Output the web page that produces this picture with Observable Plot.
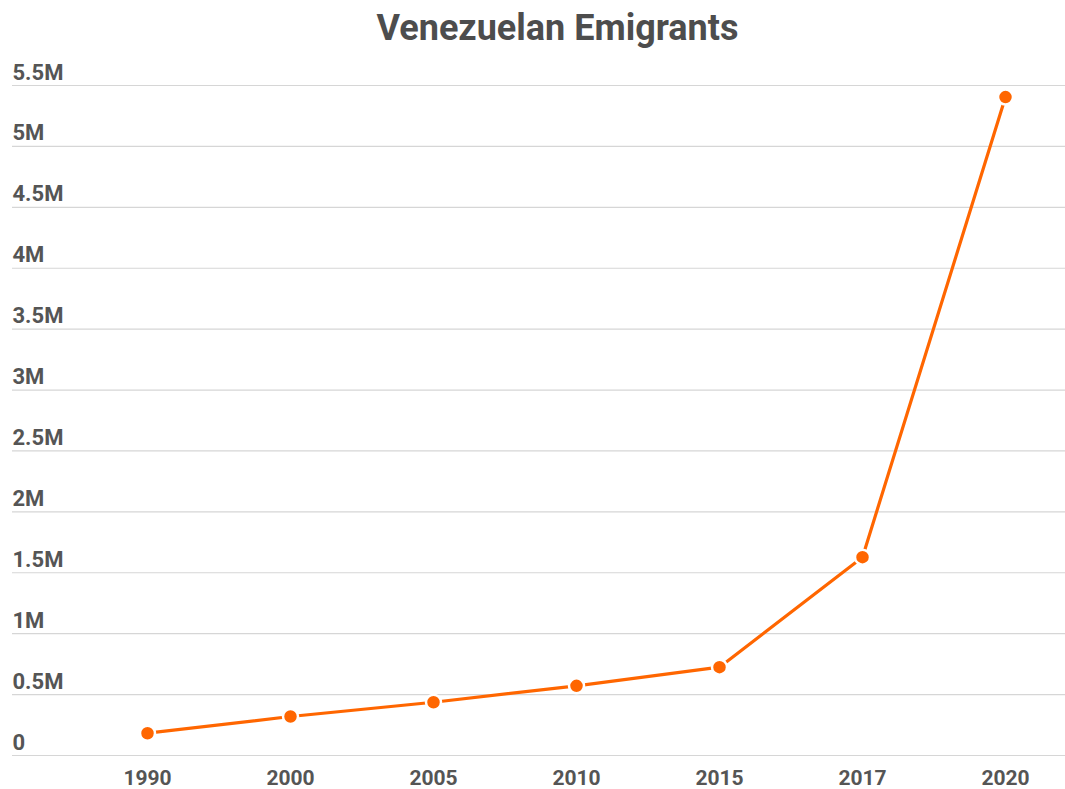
<!DOCTYPE html>
<html>
<head>
<meta charset="utf-8">
<script src="https://cdn.jsdelivr.net/npm/d3@7"></script>
<script src="https://cdn.jsdelivr.net/npm/@observablehq/plot@0.6"></script>
<style>
  html, body { margin: 0; padding: 0; background: #fff; }
  #title {
    width: 1065px; box-sizing: border-box; padding-left: 50px;
    height: 60px; text-align: center;
    font-family: Roboto, sans-serif; font-weight: 700; font-size: 36px;
    color: #4d4d4d; line-height: 36px; padding-top: 10px;
  }
  #chart svg { display: block; }
</style>
</head>
<body>
<div id="title">Venezuelan Emigrants</div>
<div id="chart"></div>
<script>
const years = ["1990", "2000", "2005", "2010", "2015", "2017", "2020"];
const emigrants = [183000, 320000, 437000, 572000, 725000, 1628000, 5405000];
const yTickValues = [0, 500000, 1000000, 1500000, 2000000, 2500000, 3000000, 3500000, 4000000, 4500000, 5000000, 5500000];
const yTickLabels = ["0", "0.5M", "1M", "1.5M", "2M", "2.5M", "3M", "3.5M", "4M", "4.5M", "5M", "5.5M"];

const data = years.map((y, i) => ({year: y, value: emigrants[i]}));
const labelOf = new Map(yTickValues.map((v, i) => [v, yTickLabels[i]]));

const chart = Plot.plot({
  width: 1065,
  height: 729,
  marginTop: 25,
  marginBottom: 34,
  marginLeft: 12,
  marginRight: 0,
  style: {fontFamily: "Roboto, sans-serif", color: "#555", background: "#fff"},
  x: {type: "point", domain: years, range: [145, 1007], padding: 0},
  y: {domain: [0, 5500000]},
  marks: [
    Plot.gridY(yTickValues, {stroke: "#d6d6d6", strokeOpacity: 1, strokeWidth: 1.2}),
    Plot.axisY(yTickValues, {
      tickSize: 0, tickPadding: 0, textAnchor: "start", lineAnchor: "bottom",
      dx: 0, dy: -6, fontSize: 22, fontWeight: 700, fill: "#555",
      tickFormat: d => labelOf.get(d), label: null
    }),
    Plot.axisX({
      tickSize: 0, tickPadding: 15, fontSize: 21, fontWeight: 700, fill: "#555", label: null
    }),
    Plot.line(data, {x: "year", y: "value", stroke: "#ff6600", strokeWidth: 3.2}),
    Plot.dot(data, {x: "year", y: "value", r: 7.5, fill: "#ff6600", stroke: "#fff", strokeWidth: 2.5})
  ]
});
document.getElementById("chart").appendChild(chart);
</script>
</body>
</html>
